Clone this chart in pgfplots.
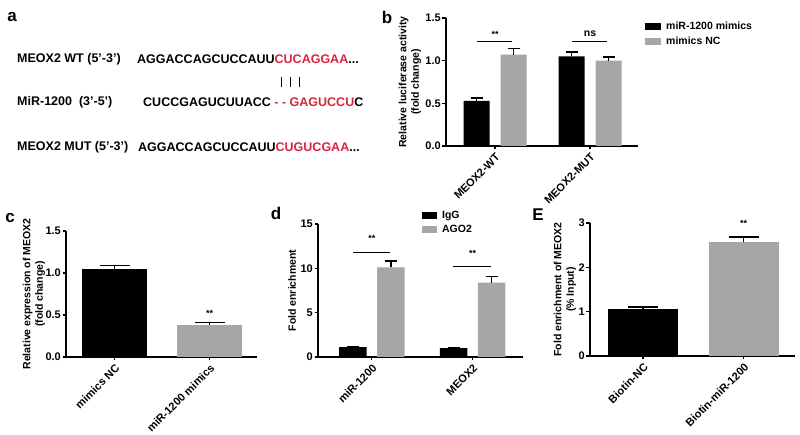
\documentclass[border=0pt]{standalone}
\usepackage{fontspec}
\setmainfont{Liberation Sans}
\usepackage{pgfplots}
\pgfplotsset{compat=1.18}
\definecolor{seqred}{HTML}{D7263D}
\definecolor{bargray}{HTML}{A6A6A6}

\pgfplotsset{
  prism/.style={
    scale only axis,
    axis lines=left,
    axis line style={line width=1.4pt,-},
    ymin=0,
    tick align=outside,
    major tick length=3.5pt,
    tick style={line width=1.1pt,black},
    /pgf/number format/assume math mode=true,
    ticklabel style={font=\bfseries\fontsize{11}{12}\selectfont},
    yticklabel style={inner sep=1.5pt},
    xtick={0,1},
    xticklabel style={rotate=45,anchor=north east,inner sep=2pt},
    clip=false,
    ybar,
    error bars/y dir=plus,
    error bars/y explicit,
    error bars/error mark=|,
    error bars/error bar style={line width=1.5pt,black},
    legend image code/.code={\fill[##1] (0pt,-3.5pt) rectangle (16pt,3.5pt);},
    legend style={draw=none,fill=none,inner sep=0pt,row sep=4pt,column sep=4pt,
      font=\bfseries\fontsize{10.5}{11}\selectfont,
      nodes={inner sep=1pt,anchor=west}},
    legend cell align=left,
  },
  ylab/.style 2 args={every axis y label/.style={at={([xshift=#1]axis description cs:0,0.5)},rotate=90,anchor=center,align=center,font=\bfseries\fontsize{10.5}{12.5}\selectfont},ylabel={#2}},
  blk/.style={fill=black,draw=none},
  gry/.style={fill=bargray,draw=none},
}

\begin{document}
\begin{tikzpicture}[x=1pt,y=1pt]

% panel letters
\begin{scope}[every node/.style={font=\bfseries\fontsize{17}{18}\selectfont,inner sep=0pt}]
\node at (12,418) {a};
\node at (387,418) {b};
\node at (10,217) {c};
\node at (276,222) {d};
\node at (538,220) {E};
\end{scope}

% panel a: sequences
\begin{scope}[every node/.style={anchor=west,inner sep=0pt,font=\bfseries\fontsize{12.5}{14}\selectfont}]
\node at (17,376) {MEOX2 WT (5’-3’)};
\node at (137,376) {AGGACCAGCUCCAUU\textcolor{seqred}{CUCAGGAA}...};
\node at (17,333) {MiR-1200\ \ (3’-5’)};
\node at (143,333) {CUCCGAGUCUUACC \textcolor{seqred}{- - GAGUCCU}C};
\node at (17,288) {MEOX2 MUT (5’-3’)};
\node at (138,288) {AGGACCAGCUCCAUU\textcolor{seqred}{CUGUCGAA}...};
\end{scope}
\foreach \xx in {281,290,299} \draw[line width=0.9pt] (\xx,348) -- (\xx,358);

% panel b
\begin{axis}[prism, at={(495pt,289pt)}, anchor=origin,
  width=192pt, height=128pt,
  xmin=-0.516, xmax=1.505, ymax=1.5,
  ytick={0,0.5,1,1.5},
  yticklabel style={/pgf/number format/.cd,fixed,fixed zerofill,precision=1},
  xticklabels={MEOX2-WT,MEOX2-MUT},
  ylab={-36pt}{Relative luciferase activity\\(fold change)},
  bar width=26pt,
  error bars/error mark options={line width=1.5pt,mark size=6pt},
  legend style={at={(rel axis cs:1,1)},anchor=north west,xshift=7pt,yshift=-3pt}]
\addplot[blk,bar shift=-18.5pt] coordinates {(0,0.53) +- (0,0.03) (1,1.05) +- (0,0.05)};
\addlegendentry{miR-1200 mimics}
\addplot[gry,bar shift=18.5pt] coordinates {(0,1.07) +- (0,0.07) (1,1.00) +- (0,0.04)};
\addlegendentry{mimics NC}
\draw[line width=1pt] (axis cs:-0.19,1.22) -- (axis cs:0.18,1.22);
\draw[line width=1pt] (axis cs:0.81,1.22) -- (axis cs:1.18,1.22);
\node[font=\bfseries\fontsize{9}{10}\selectfont] at (axis cs:0,1.31) {**};
\node[font=\bfseries\fontsize{10.5}{11}\selectfont] at (axis cs:1,1.31) {ns};
\end{axis}

% panel c
\begin{axis}[prism, at={(114.5pt,78pt)}, anchor=origin,
  width=191pt, height=126pt,
  xmin=-0.51, xmax=1.5, ymax=1.5,
  ytick={0,0.5,1,1.5},
  yticklabel style={/pgf/number format/.cd,fixed,fixed zerofill,precision=1},
  xticklabels={mimics NC,miR-1200 mimics},
  ylab={-32pt}{Relative expression of MEOX2\\(fold change)},
  bar width=65pt,
  error bars/error mark options={line width=1.5pt,mark size=15pt}]
\addplot[blk,bar shift=0pt] coordinates {(0,1.05) +- (0,0.04)};
\addplot[gry,bar shift=0pt] coordinates {(1,0.38) +- (0,0.03)};
\node[font=\bfseries\fontsize{9}{10}\selectfont] at (axis cs:1,0.52) {**};
\end{axis}

% panel d
\begin{axis}[prism, at={(371.75pt,78pt)}, anchor=origin,
  width=205pt, height=133pt,
  xmin=-0.533, xmax=1.5, ymax=15,
  ytick={0,5,10,15},
  xticklabels={miR-1200,MEOX2},
  ylab={-26pt}{Fold enrichment},
  bar width=27.5pt,
  error bars/error mark options={line width=1.5pt,mark size=6pt},
  legend image code/.code={\fill[#1] (0pt,-3.5pt) rectangle (15pt,3.5pt);},
  legend style={at={(rel axis cs:0.507,1.105)},anchor=north west,row sep=3pt}]
\addplot[blk,bar shift=-19pt] coordinates {(0,1.1) +- (0,0.05) (1,1.0) +- (0,0.04)};
\addlegendentry{IgG}
\addplot[gry,bar shift=19pt] coordinates {(0,10.1) +- (0,0.7) (1,8.4) +- (0,0.7)};
\addlegendentry{AGO2}
\draw[line width=1pt] (axis cs:-0.186,11.84) -- (axis cs:0.18,11.84);
\draw[line width=1pt] (axis cs:0.81,10.15) -- (axis cs:1.18,10.15);
\node[font=\bfseries\fontsize{9}{10}\selectfont] at (axis cs:0,13.4) {**};
\node[font=\bfseries\fontsize{9}{10}\selectfont] at (axis cs:1,11.7) {**};
\end{axis}

% panel E
\begin{axis}[prism, at={(643pt,79pt)}, anchor=origin,
  width=205pt, height=133pt,
  xmin=-0.527, xmax=1.51, ymax=3,
  ytick={0,1,2,3},
  xticklabels={Biotin-NC,Biotin-miR-1200},
  ylab={-25pt}{Fold enrichment of MEOX2\\(\% Input)},
  bar width=70pt,
  error bars/error mark options={line width=1.5pt,mark size=15pt}]
\addplot[blk,bar shift=0pt] coordinates {(0,1.05) +- (0,0.05)};
\addplot[gry,bar shift=0pt] coordinates {(1,2.58) +- (0,0.10)};
\node[font=\bfseries\fontsize{9}{10}\selectfont] at (axis cs:1,2.98) {**};
\end{axis}

\pgfresetboundingbox
\useasboundingbox (0,0) rectangle (800,435);
\end{tikzpicture}
\end{document}
